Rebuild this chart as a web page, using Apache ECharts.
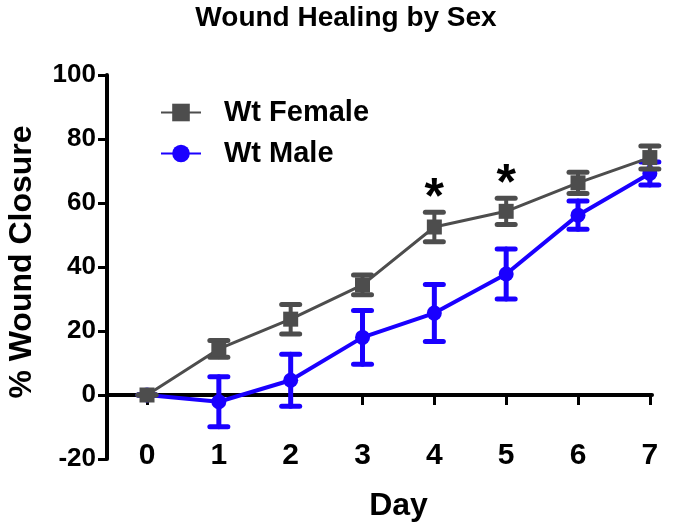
<!DOCTYPE html>
<html>
<head>
<meta charset="utf-8">
<script src="https://cdn.jsdelivr.net/npm/echarts@6/dist/echarts.min.js"></script>
<style>html,body{margin:0;padding:0;background:#fff}#c{width:692px;height:530px}</style>
</head>
<body>
<div id="c"></div>
<script>
const days = [0, 1, 2, 3, 4, 5, 6, 7];
const femaleMean = [0, 14.4, 23.7, 34.4, 52.5, 57.4, 66.3, 74.2];
const femaleSem = [0, 2.6, 4.6, 3.1, 4.6, 4.1, 3.3, 3.6];
const maleMean = [0, -2.1, 4.6, 18.0, 25.6, 37.8, 56.2, 69.2];
const maleSem = [0, 7.8, 8.1, 8.4, 8.9, 7.8, 4.4, 3.6];
const sigDays = [4, 5];
const yTicks = [-20, 0, 20, 40, 60, 80, 100];

const FONT = '"Liberation Sans", Arial, sans-serif';
const GRAY = '#4d4d4d';
const BLUE = '#1a00ff';

function errData(mean, sem) {
  return days.map((d, i) => [d, mean[i] - sem[i], mean[i] + sem[i]]);
}
function errRender(color, vw) {
  return function (params, api) {
    const x = api.value(0);
    const lo = api.coord([x, api.value(1)]);
    const hi = api.coord([x, api.value(2)]);
    const hw = 9;
    const style = { stroke: color, lineWidth: vw, lineCap: 'round' };
    const cap = { stroke: color, lineWidth: 5, lineCap: 'round' };
    return {
      type: 'group',
      children: [
        { type: 'line', shape: { x1: lo[0], y1: lo[1], x2: hi[0], y2: hi[1] }, style: style },
        { type: 'line', shape: { x1: hi[0] - hw, y1: hi[1], x2: hi[0] + hw, y2: hi[1] }, style: cap },
        { type: 'line', shape: { x1: lo[0] - hw, y1: lo[1], x2: lo[0] + hw, y2: lo[1] }, style: cap }
      ]
    };
  };
}

const chart = echarts.init(document.getElementById('c'));
chart.setOption({
  animation: false,
  backgroundColor: '#fff',
  title: {
    text: 'Wound Healing by Sex',
    left: 'center',
    top: -1,
    textStyle: { fontFamily: FONT, fontWeight: 'bold', fontSize: 28, color: '#000' }
  },
  legend: {
    orient: 'vertical',
    left: 160,
    top: 98,
    padding: 0,
    itemWidth: 40,
    itemHeight: 22,
    itemGap: 12,
    data: ['Wt Female', 'Wt Male'],
    textStyle: { fontFamily: FONT, fontWeight: 'bold', fontSize: 29, color: '#000', padding: [0, 0, 0, 18], lineHeight: 28 }
  },
  grid: { left: 107, right: 40, top: 75, bottom: 71, containLabel: false, outerBoundsMode: 'none' },
  xAxis: {
    type: 'value',
    min: -0.557,
    max: 7.03,
    name: 'Day',
    nameLocation: 'middle',
    nameGap: 31,
    nameTextStyle: { fontFamily: FONT, fontWeight: 'bold', fontSize: 32, color: '#000', padding: [0, 0, 0, 38] },
    axisLine: { onZero: true, lineStyle: { color: '#000', width: 4 } },
    axisTick: { show: true, customValues: days, length: 10, lineStyle: { color: '#000', width: 3 } },
    axisLabel: { customValues: days, margin: -18, fontFamily: FONT, fontWeight: 'bold', fontSize: 30, color: '#000' },
    splitLine: { show: false }
  },
  yAxis: {
    type: 'value',
    min: -20,
    max: 100,
    interval: 20,
    name: '% Wound Closure',
    nameLocation: 'middle',
    nameGap: 69,
    nameTextStyle: { fontFamily: FONT, fontWeight: 'bold', fontSize: 32, color: '#000', padding: [0, 0, 0, 10] },
    axisLine: { show: true, onZero: false, lineStyle: { color: '#000', width: 4 } },
    axisTick: { show: true, length: 9, lineStyle: { color: '#000', width: 3 } },
    axisLabel: { margin: 11, fontFamily: FONT, fontWeight: 'bold', fontSize: 26, color: '#000' },
    splitLine: { show: false }
  },
  series: [
    {
      type: 'custom',
      name: 'maleErr',
      renderItem: errRender(BLUE, 5),
      data: errData(maleMean, maleSem),
      encode: { x: 0, y: [1, 2] },
      z: 2
    },
    {
      type: 'line',
      name: 'Wt Male',
      data: days.map((d, i) => [d, maleMean[i]]),
      symbol: 'circle',
      symbolSize: 15,
      color: BLUE,
      lineStyle: { color: BLUE, width: 4 },
      itemStyle: { color: BLUE },
      z: 3
    },
    {
      type: 'custom',
      name: 'femaleErr',
      renderItem: errRender(GRAY, 4),
      data: errData(femaleMean, femaleSem),
      encode: { x: 0, y: [1, 2] },
      z: 4
    },
    {
      type: 'line',
      name: 'Wt Female',
      data: days.map((d, i) => [d, femaleMean[i]]),
      symbol: 'rect',
      symbolSize: 15,
      color: GRAY,
      lineStyle: { color: GRAY, width: 3 },
      itemStyle: { color: GRAY },
      z: 5
    },
    {
      type: 'custom',
      name: 'sig',
      data: sigDays.map(d => [d, femaleMean[days.indexOf(d)] + femaleSem[days.indexOf(d)]]),
      encode: { x: 0, y: 1 },
      renderItem: function (params, api) {
        const p = api.coord([api.value(0), api.value(1)]);
        return {
          type: 'text',
          x: p[0],
          y: p[1] + 12,
          style: { text: '*', fontFamily: FONT, fontWeight: 'bold', fontSize: 50, fill: '#000', align: 'center', verticalAlign: 'bottom' }
        };
      },
      z: 6
    }
  ]
});
</script>
</body>
</html>
